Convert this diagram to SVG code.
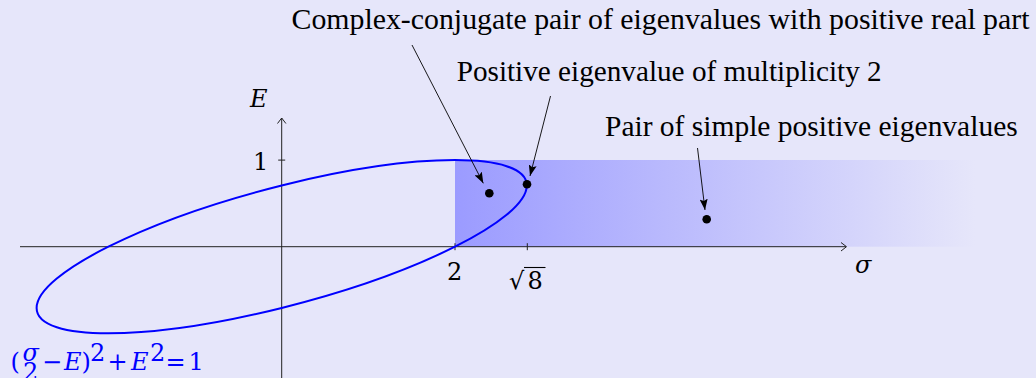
<svg xmlns="http://www.w3.org/2000/svg" width="1036" height="378" viewBox="0 0 1036 378">
<style>
.lbl{font-family:"Liberation Serif","DejaVu Serif",serif;font-size:29px;fill:#000}
.m{font-family:"DejaVu Serif","Liberation Serif",serif;font-size:24px;fill:#000}
.it{font-style:italic}
.f{font-family:"DejaVu Serif","Liberation Serif",serif;font-size:24px;fill:#0000ff}
.axis{stroke:#222;stroke-width:1;fill:none}
.conn{stroke:#000;stroke-width:0.9;fill:none}
</style>
<defs>
<linearGradient id="shade" gradientUnits="userSpaceOnUse" x1="455" y1="0" x2="975" y2="0">
<stop offset="0" stop-color="#9b9bff"/>
<stop offset="1" stop-color="#e6e6fa"/>
</linearGradient>
<marker id="ah" markerUnits="userSpaceOnUse" markerWidth="12" markerHeight="8" refX="11" refY="4" orient="auto">
<path d="M0,0 L11,4 L0,8 L2,4 Z" fill="#000"/>
</marker>
</defs>
<rect width="1036" height="378" fill="#e6e6fa"/>
<g id="region">
<rect x="455" y="160" width="520" height="86.7" fill="url(#shade)"/>
</g>
<g id="axes">
<line class="axis" x1="20" y1="246.7" x2="846" y2="246.7"/>
<path class="axis" d="M841,242.5 L846.5,246.7 L841,251"/>
<line class="axis" x1="281.7" y1="378" x2="281.7" y2="118"/>
<path class="axis" d="M277.5,123.5 L281.7,118 L285.9,123.5"/>
<line class="axis" x1="455" y1="243.2" x2="455" y2="250.2"/>
<line class="axis" x1="527.3" y1="243.2" x2="527.3" y2="250.2"/>
<line class="axis" x1="278.2" y1="160.1" x2="285.2" y2="160.1"/>
<text class="m it" x="250" y="107">E</text>
<text class="m" x="253" y="170">1</text>
<text class="m" x="447" y="280">2</text>
<text class="m" x="509" y="289">√</text>
<line x1="524" y1="267.5" x2="545.5" y2="267.5" stroke="#000" stroke-width="1.1"/>
<text class="m" x="527.5" y="288.5">8</text>
<text class="m it" x="855" y="272.5" font-size="27">σ</text>
</g>
<g id="ellipse">
<circle cx="0" cy="0" r="1" transform="matrix(173.3 0 173.3 -86.6 281.7 246.7)" fill="none" stroke="#0000ff" stroke-width="2" vector-effect="non-scaling-stroke"/>
<text class="f" x="10.5" y="370">(</text>
<text class="f it" x="22.5" y="360.5" font-size="20">σ</text>
<text class="f" x="23" y="379.5" font-size="19">2</text>
<text class="f" x="42" y="370" font-size="20">−</text>
<text class="f it" x="64" y="370">E</text>
<text class="f" x="81.5" y="370">)</text>
<text class="f" x="90" y="361" font-size="18">2</text>
<text class="f" x="107.5" y="370" font-size="21">+</text>
<text class="f it" x="131" y="370">E</text>
<text class="f" x="150" y="361" font-size="18">2</text>
<text class="f" x="165.5" y="370" font-size="22">=</text>
<text class="f" x="188.5" y="370">1</text>
</g>
<g id="points">
<circle cx="489.3" cy="193.3" r="4.3" fill="#000"/>
<circle cx="527" cy="184.3" r="4.3" fill="#000"/>
<circle cx="706.7" cy="219.3" r="4.3" fill="#000"/>
</g>
<g id="label-complex">
<text class="lbl" x="291.5" y="28.5" textLength="738" lengthAdjust="spacingAndGlyphs">Complex-conjugate pair of eigenvalues with positive real part</text>
</g>
<g id="label-double">
<text class="lbl" x="456.7" y="81" textLength="425" lengthAdjust="spacingAndGlyphs">Positive eigenvalue of multiplicity 2</text>
</g>
<g id="label-simple">
<text class="lbl" x="605" y="136" textLength="412.7" lengthAdjust="spacingAndGlyphs">Pair of simple positive eigenvalues</text>
</g>
<g id="connectors">
<line class="conn" x1="412" y1="45" x2="483.3" y2="183.3" marker-end="url(#ah)"/>
<line class="conn" x1="550.5" y1="96" x2="530" y2="176" marker-end="url(#ah)"/>
<line class="conn" x1="697.5" y1="148" x2="705" y2="210" marker-end="url(#ah)"/>
</g>
</svg>
